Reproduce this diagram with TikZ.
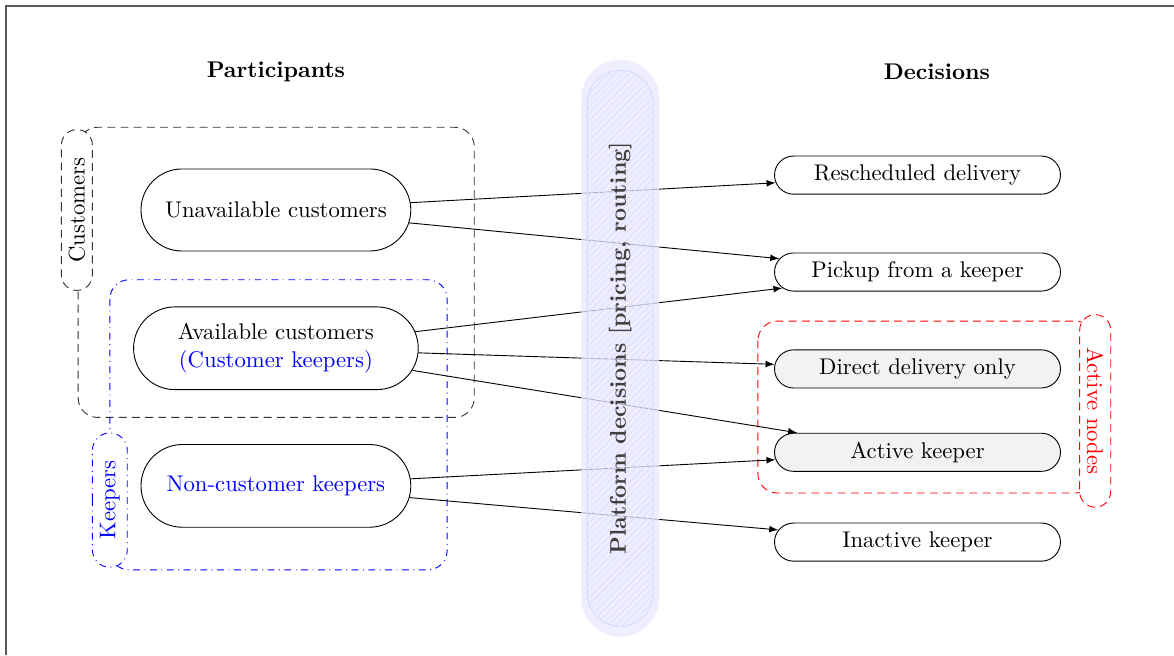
\documentclass[tikz,border=0pt]{standalone}
\usetikzlibrary{shapes.misc,patterns,arrows}
\tikzset{
  partnode/.style={rounded rectangle,draw,minimum width=4.41cm,minimum height=1.27cm,align=center},
  decnode/.style={rounded rectangle,draw,minimum width=4.66cm,minimum height=0.59cm},
  actnode/.style={decnode,fill=gray!10},
  grplabel/.style={rounded rectangle,draw,fill=white,inner sep=1pt},
  longdash/.style={dash pattern=on 3.5pt off 2.3pt},
}
\begin{document}
\begin{tikzpicture}
\useasboundingbox (0,0) rectangle (18.17,-10.14);
\draw[gray!70!black,line width=0.8pt] (0.09,-10.14) -- (0.09,-0.09) -- (18.17,-0.09);

\node[font=\bfseries] (parttitle) at (4.27,-1.11) {Participants};
\node[font=\bfseries] (dectitle) at (14.50,-1.11) {Decisions};

% groups on the left
\draw[longdash,black!80,rounded corners=0.3cm] (1.21,-1.97) rectangle (7.34,-6.46);
\draw[dash dot,blue,rounded corners=0.3cm] (1.70,-4.33) rectangle (6.92,-8.82);
\node[grplabel,longdash,draw=black!80,rotate=90,minimum width=2.56cm,minimum height=0.48cm] (custlab) at (1.19,-3.25) {Customers};
\node[grplabel,dash dot,draw=blue,text=blue,rotate=90,minimum width=2.15cm,minimum height=0.54cm] (keeplab) at (1.70,-7.74) {Keepers};

% participants
\node[partnode] (unav) at (4.27,-3.25) {Unavailable customers};
\node[partnode,minimum width=4.64cm,minimum height=1.28cm] (avail) at (4.27,-5.39) {Available customers\\\textcolor{blue}{(Customer keepers)}};
\node[partnode,minimum height=1.28cm,text=blue] (noncust) at (4.27,-7.52) {Non-customer keepers};

% active group on the right
\draw[longdash,red,rounded corners=0.3cm] (11.73,-4.97) rectangle (16.95,-7.63);
\node[grplabel,longdash,draw=red,text=red,rotate=-90,minimum width=3.05cm,minimum height=0.48cm] (actlab) at (16.95,-6.36) {Active nodes};

% decisions
\node[decnode] (resch) at (14.20,-2.71) {Rescheduled delivery};
\node[decnode] (pickup) at (14.20,-4.21) {Pickup from a keeper};
\node[actnode] (direct) at (14.20,-5.71) {Direct delivery only};
\node[actnode] (actk) at (14.20,-7.00) {Active keeper};
\node[decnode] (inact) at (14.20,-8.39) {Inactive keeper};

\draw[-latex] (unav) -- (resch);
\draw[-latex] (unav) -- (pickup);
\draw[-latex] (avail) -- (pickup);
\draw[-latex] (avail) -- (direct);
\draw[-latex] (avail) -- (actk);
\draw[-latex] (noncust) -- (actk);
\draw[-latex] (noncust) -- (inact);

% platform bar
\node[rounded rectangle,fill=blue!9,fill opacity=0.75,rotate=90,minimum width=9.16cm,minimum height=1.21cm] (bar) at (9.60,-5.39) {};
\node[rounded rectangle,draw=blue!15,pattern=north east lines,pattern color=blue!12,rotate=90,minimum width=8.84cm,minimum height=1.02cm] (barin) at (bar.center) {};
\node[rotate=90,font=\bfseries,text=black!75] (bartext) at (bar.center) {Platform decisions [pricing, routing]};
\end{tikzpicture}
\end{document}
